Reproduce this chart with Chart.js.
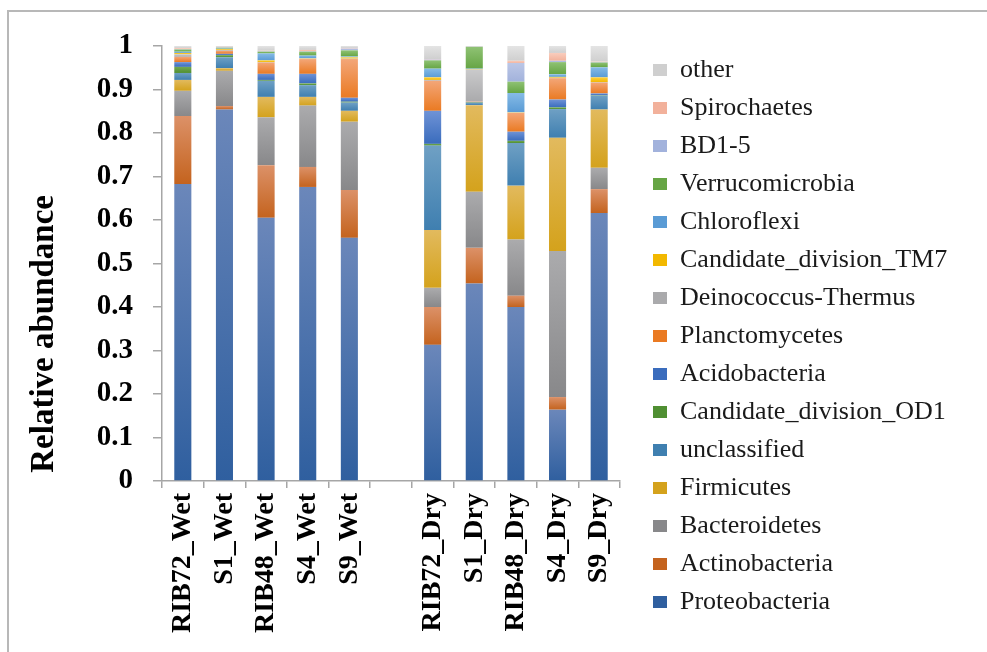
<!DOCTYPE html>
<html>
<head>
<meta charset="utf-8">
<title>Relative abundance</title>
<script src="https://cdn.jsdelivr.net/npm/chart.js@4.4.1/dist/chart.umd.min.js"></script>
<style>
    html, body { margin: 0; padding: 0; background: #fff; }
    #wrap { position: relative; width: 987px; height: 652px; }
    #frame { position: absolute; left: 7px; top: 10px; right: 0; bottom: 0;
             border-top: 2px solid #b8b8b8; border-left: 2px solid #b8b8b8; pointer-events: none; }
    canvas { display: block; }
</style>
</head>
<body>
<div id="wrap">
    <canvas id="chart" width="987" height="652"></canvas>
    <div id="frame"></div>
</div>
<script>
// campioni (la colonna vuota separa Wet e Dry)
const $samples = ['RIB72_Wet', 'S1_Wet', 'RIB48_Wet', 'S4_Wet', 'S9_Wet', '',
    'RIB72_Dry', 'S1_Dry', 'RIB48_Dry', 'S4_Dry', 'S9_Dry'];

const $proteobacteria = [0.683, 0.854, 0.605, 0.676, 0.559, null, 0.313, 0.454, 0.400, 0.164, 0.616];
const $actinobacteria = [0.156, 0.008, 0.121, 0.046, 0.110, null, 0.087, 0.082, 0.026, 0.029, 0.055];
const $bacteroidetes = [0.058, 0.081, 0.110, 0.141, 0.157, null, 0.044, 0.129, 0.129, 0.336, 0.049];
const $firmicutes = [0.025, 0.006, 0.047, 0.020, 0.025, null, 0.133, 0.199, 0.124, 0.260, 0.134];
const $unclassified = [0.016, 0.025, 0.037, 0.027, 0.019, null, 0.194, 0.005, 0.098, 0.066, 0.032];
const $od1 = [0.014, 0.005, 0.002, 0.004, 0.002, null, 0.004, 0.001, 0.005, 0.004, 0.001];
const $acidobacteria = [0.011, 0.003, 0.014, 0.022, 0.009, null, 0.076, 0.001, 0.021, 0.018, 0.004];
const $planctomycetes = [0.012, 0.007, 0.026, 0.034, 0.089, null, 0.069, 0.001, 0.043, 0.049, 0.025];
const $deinococcus = [0.006, 0.002, 0.001, 0.001, 0.001, null, 0.002, 0.074, 0.001, 0.001, 0.001];
const $tm7 = [0.003, 0.002, 0.004, 0.001, 0.003, null, 0.006, 0.001, 0.001, 0.002, 0.011];
const $chloroflexi = [0.003, 0.001, 0.016, 0.006, 0.002, null, 0.020, 0.001, 0.044, 0.006, 0.023];
const $verrucomicrobia = [0.005, 0.002, 0.004, 0.009, 0.014, null, 0.019, 0.050, 0.026, 0.028, 0.011];
const $bd15 = [0.001, 0.001, 0.001, 0.001, 0.004, null, 0.002, 0.000, 0.043, 0.003, 0.001];
const $spirochaetes = [0.002, 0.001, 0.001, 0.003, 0.001, null, 0.001, 0.000, 0.005, 0.018, 0.001];
const $other = [0.005, 0.002, 0.011, 0.009, 0.005, null, 0.030, 0.002, 0.034, 0.016, 0.036];

const $taxa = ['Proteobacteria', 'Actinobacteria', 'Bacteroidetes', 'Firmicutes', 'unclassified',
    'Candidate_division_OD1', 'Acidobacteria', 'Planctomycetes', 'Deinococcus-Thermus',
    'Candidate_division_TM7', 'Chloroflexi', 'Verrucomicrobia', 'BD1-5', 'Spirochaetes', 'other'];
const $series = [$proteobacteria, $actinobacteria, $bacteroidetes, $firmicutes, $unclassified,
    $od1, $acidobacteria, $planctomycetes, $deinococcus, $tm7, $chloroflexi, $verrucomicrobia,
    $bd15, $spirochaetes, $other];

const $yTicks = ['0', '0.1', '0.2', '0.3', '0.4', '0.5', '0.6', '0.7', '0.8', '0.9', '1'];

// colori: chiaro in alto, scuro in basso (sfumatura stile Excel)
const $colorLight = ['#6b87ba', '#dc9168', '#ababad', '#e2ba5e', '#6fa0c4', '#72a852', '#6f93d6',
    '#f3a678', '#cacacb', '#ffd03d', '#86bbe6', '#8fc274', '#bcc7e6', '#f9cdbd', '#e4e4e4'];
const $colorDark = ['#2f5f9f', '#c4631e', '#88888a', '#d4a21c', '#3f7fb0', '#4f8f32', '#3a6cbd',
    '#ea7a22', '#aaaaac', '#f2b800', '#5a9bd5', '#66a544', '#a2b2dc', '#f2b19b', '#cfcfcf'];

const $serif = "'Liberation Serif', 'Times New Roman', serif";

function segmentFill($i) {
    return function (ctx) {
        const $y = ctx.chart.scales.y;
        if (ctx.type !== 'data' || !$y) return $colorDark[$i];
        const $j = ctx.dataIndex;
        let $base = 0;
        for (let k = 0; k < $i; k++) $base += $series[k][$j] || 0;
        const $top = $base + ($series[$i][$j] || 0);
        const $y0 = $y.getPixelForValue($top);
        const $y1 = $y.getPixelForValue($base);
        if (!isFinite($y0) || !isFinite($y1)) return $colorDark[$i];
        const $g = ctx.chart.ctx.createLinearGradient(0, $y0, 0, $y1);
        $g.addColorStop(0, $colorLight[$i]);
        $g.addColorStop(1, $colorDark[$i]);
        return $g;
    };
}

// legenda larga fino al bordo, spostata a destra del grafico
const $legendShift = {
    id: 'legendShift',
    beforeLayout(chart) {
        const $legend = chart.legend;
        if (!$legend || $legend._patched) return;
        const $fit = $legend.fit;
        $legend.fit = function () {
            $fit.call(this);
            this.width = 367;
        };
        $legend._patched = true;
    },
    afterLayout(chart) {
        chart.legend.left = chart.chartArea.right + 21;
    }
};

const $datasets = $series.map(($values, $i) => ({
    label: $taxa[$i],
    data: $values,
    backgroundColor: segmentFill($i),
    borderWidth: 0,
    barPercentage: 0.41,
    categoryPercentage: 1
}));

let $ctx = document.getElementById('chart').getContext('2d');
new Chart($ctx, {
    type: 'bar',
    data: { labels: $samples, datasets: $datasets },
    plugins: [$legendShift],
    options: {
        responsive: false,
        animation: false,
        devicePixelRatio: 1,
        layout: { padding: { top: 20, left: 0, right: 0, bottom: 0 } },
        plugins: {
            tooltip: { enabled: false },
            legend: {
                position: 'right',
                reverse: true,
                labels: {
                    font: { family: $serif, size: 26 },
                    color: '#1a1a1a',
                    boxWidth: 14,
                    boxHeight: 12,
                    padding: 12,
                    generateLabels(chart) {
                        return Chart.defaults.plugins.legend.labels.generateLabels(chart).map(l =>
                            Object.assign(l, { fillStyle: $colorDark[l.datasetIndex], strokeStyle: 'rgba(0,0,0,0)', lineWidth: 0 }));
                    }
                }
            }
        },
        scales: {
            x: {
                stacked: true,
                grid: { drawOnChartArea: false, tickLength: 7, color: '#a6a6a6', lineWidth: 1.5 },
                border: { color: '#a6a6a6', width: 1.5 },
                ticks: {
                    autoSkip: false,
                    minRotation: 90,
                    maxRotation: 90,
                    padding: 5,
                    color: '#000',
                    font: { family: $serif, size: 28, weight: 'bold' }
                },
                afterFit(s) { s.height = 171; }
            },
            y: {
                stacked: true,
                min: 0,
                max: 1,
                grid: { drawOnChartArea: false, tickLength: 9, color: '#a6a6a6', lineWidth: 1.5 },
                border: { color: '#a6a6a6', width: 1.5 },
                ticks: {
                    stepSize: 0.1,
                    padding: 20,
                    color: '#000',
                    font: { family: $serif, size: 29, weight: 'bold' },
                    callback: (v, i) => $yTicks[i]
                },
                title: {
                    display: true,
                    text: ' Relative abundance',
                    align: 'start',
                    color: '#000',
                    padding: { top: 25, bottom: 0 },
                    font: { family: $serif, size: 33, weight: 'bold' }
                },
                afterFit(s) { s.width = 162; s.paddingTop = 46; }
            }
        }
    }
});
</script>
</body>
</html>
